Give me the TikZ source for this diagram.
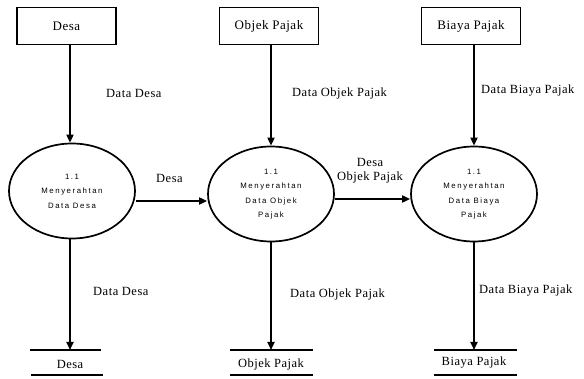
\documentclass[tikz,border=0pt]{standalone}
\usepackage{fontspec}
\setmainfont{Liberation Serif}[LetterSpace=4]
\newfontfamily\procfont[LetterSpace=20]{Liberation Sans}
\usetikzlibrary{arrows.meta,shapes.geometric}
\begin{document}
\begin{tikzpicture}[x=1pt,y=-1pt,
  entity/.style={draw,line width=1.8pt,minimum width=99pt,minimum height=37pt,inner sep=0pt,font=\fontsize{13}{14}\selectfont},
  proc/.style={draw,ellipse,line width=1.7pt,minimum width=126pt,minimum height=95pt,inner sep=0pt,align=center,font=\procfont\fontsize{7.8}{14.5}\selectfont},
  flow/.style={line width=1.7pt,-{Triangle[length=8pt,width=7pt]}},
  lbl/.style={font=\fontsize{12.5}{14}\selectfont,inner sep=0pt,align=center},
  storeline/.style={line width=1.8pt}]
\useasboundingbox (0,0) rectangle (584,379);
% external entities
\node[entity] (e1) at (66.5,26) {Desa};
\node[entity] (e2) at (269,26) {Objek Pajak};
\node[entity] (e3) at (471,26) {Biaya Pajak};
% processes
\node[proc] (p1) at (72,191) {1.1\\Menyerahtan\\Data Desa};
\node[proc] (p2) at (271,194) {1.1\\Menyerahtan\\Data Objek\\Pajak};
\node[proc] (p3) at (474,194) {1.1\\Menyerahtan\\Data Biaya\\Pajak};
% data stores
\coordinate (s1a) at (30,350); \coordinate (s1b) at (101,350);
\coordinate (s1c) at (31,375); \coordinate (s1d) at (103,375);
\coordinate (s2a) at (230,350); \coordinate (s2b) at (313,350);
\coordinate (s2c) at (230,375); \coordinate (s2d) at (313,375);
\coordinate (s3a) at (434,350); \coordinate (s3b) at (517,350);
\coordinate (s3c) at (434,375); \coordinate (s3d) at (517,375);
\draw[storeline] (s1a) -- (s1b) (s1c) -- (s1d);
\draw[storeline] (s2a) -- (s2b) (s2c) -- (s2d);
\draw[storeline] (s3a) -- (s3b) (s3c) -- (s3d);
\node[lbl] (d1) at (70,364) {Desa};
\node[lbl] (d2) at (271,364) {Objek Pajak};
\node[lbl] (d3) at (474,363) {Biaya Pajak};
\coordinate (t1) at (70,350);
\coordinate (t2) at (271,350);
\coordinate (t3) at (474,350);
% flows into processes
\draw[flow] (e1.south -| 70,0) -- (p1.north -| 70,0);
\draw[flow] (e2.south -| 271,0) -- (p2.north);
\draw[flow] (e3.south -| 474,0) -- (p3.north);
% flows out to stores
\draw[flow] (p1.south -| 70,0) -- (t1);
\draw[flow] (p2.south) -- (t2);
\draw[flow] (p3.south) -- (t3);
% flows between processes
\draw[flow] (p1.east |- 0,201) -- (p2.west |- 0,201);
\draw[flow] (p2.east |- 0,199) -- (p3.west |- 0,199);
% flow labels
\node[lbl,anchor=west] (l1) at (106,93) {Data Desa};
\node[lbl,anchor=west] (l2) at (292,93) {Data Objek Pajak};
\node[lbl,anchor=west] (l3) at (481,91) {Data Biaya Pajak};
\node[lbl,anchor=west] (l4) at (156,178) {Desa};
\node[lbl] (l5) at (370,171) {Desa\\Objek Pajak};
\node[lbl,anchor=west] (l6) at (93,291) {Data Desa};
\node[lbl,anchor=west] (l7) at (290,294) {Data Objek Pajak};
\node[lbl,anchor=west] (l8) at (479,291) {Data Biaya Pajak};
\end{tikzpicture}
\end{document}
